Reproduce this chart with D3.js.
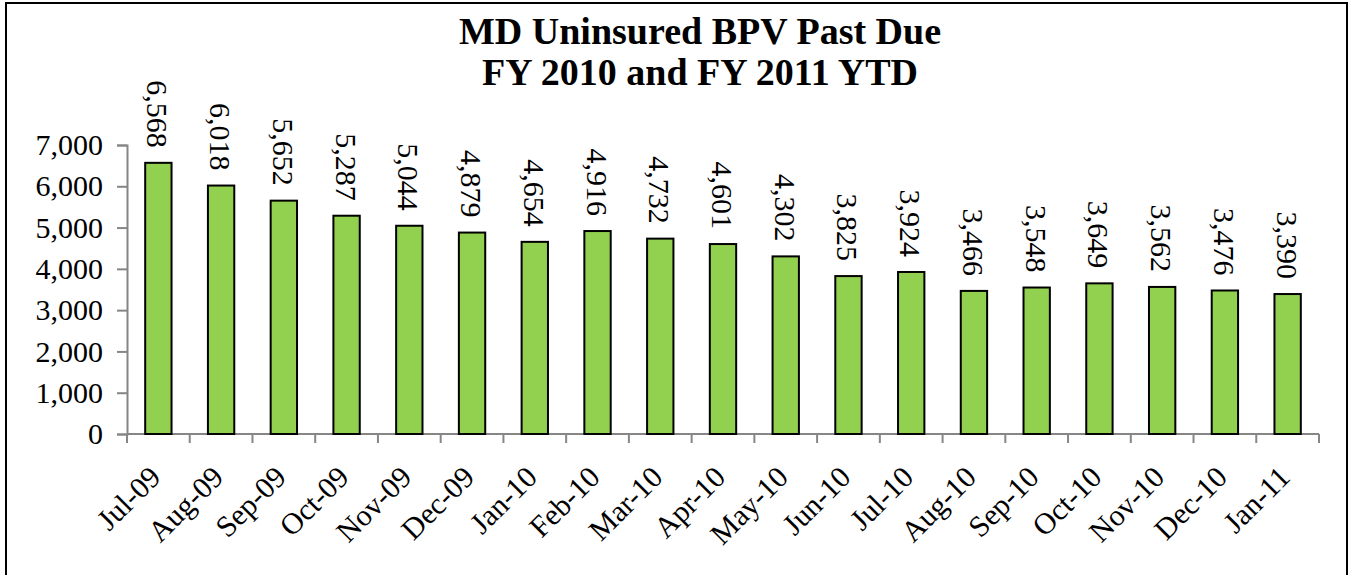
<!DOCTYPE html>
<html><head><meta charset="utf-8">
<script src="https://cdn.jsdelivr.net/npm/d3@7"></script>
<style>html,body{margin:0;padding:0;background:#fff;}svg{display:block;}</style>
</head><body>
<svg id="chart" width="1351" height="575"></svg>
<script>
const categories = ["Jul-09","Aug-09","Sep-09","Oct-09","Nov-09","Dec-09","Jan-10","Feb-10","Mar-10","Apr-10","May-10","Jun-10","Jul-10","Aug-10","Sep-10","Oct-10","Nov-10","Dec-10","Jan-11"];
const values = [6568,6018,5652,5287,5044,4879,4654,4916,4732,4601,4302,3825,3924,3466,3548,3649,3562,3476,3390];
const yTicks = [0,1000,2000,3000,4000,5000,6000,7000];
const titleLines = ["MD Uninsured BPV Past Due","FY 2010 and FY 2011 YTD"];

const svg = d3.select("#chart");
const font = "'Liberation Serif','Times New Roman',serif";
const W = 1351, H = 575;
const m = {left:127, right:1319, top:145, bottom:434};

svg.append("rect").attr("x",6).attr("y",3).attr("width",1341).attr("height",H+10)
  .attr("fill","#fff").attr("stroke","#000").attr("stroke-width",2);

svg.append("g").selectAll("text").data(titleLines).join("text")
  .attr("x",700).attr("y",(d,i)=>44+i*41)
  .attr("text-anchor","middle").attr("font-family",font).attr("font-weight","bold")
  .attr("font-size",38).attr("fill","#000").text(d=>d);

const x = d3.scaleBand().domain(categories).range([m.left,m.right]).paddingInner(0.58).paddingOuter(0.29);
const xb = d3.scaleBand().domain(categories).range([m.left,m.right]);
const y = d3.scaleLinear().domain([0,7000]).range([m.bottom,m.top]);

// y axis
const ya = svg.append("g").attr("transform",`translate(${m.left},0)`)
  .call(d3.axisLeft(y).tickValues(yTicks).tickFormat(d3.format(",")).tickSizeOuter(0).tickSize(10).tickPadding(14));
ya.select(".domain").attr("stroke","#868686").attr("stroke-width",2);
ya.selectAll(".tick line").attr("stroke","#868686").attr("stroke-width",2);
ya.selectAll("text").attr("font-family",font).attr("font-size",30).attr("fill","#000");

// x axis line and boundary ticks
const xg = svg.append("g");
xg.append("line").attr("x1",m.left).attr("x2",m.right).attr("y1",m.bottom).attr("y2",m.bottom)
  .attr("stroke","#868686").attr("stroke-width",2);
const bounds = categories.map(c=>xb(c)).concat([m.right]);
xg.selectAll("line.t").data(bounds).join("line").attr("class","t")
  .attr("x1",d=>d).attr("x2",d=>d).attr("y1",m.bottom).attr("y2",m.bottom+9)
  .attr("stroke","#868686").attr("stroke-width",2);

// bars
svg.append("g").selectAll("rect").data(values).join("rect")
  .attr("x",(d,i)=>x(categories[i])).attr("width",x.bandwidth())
  .attr("y",d=>y(d)).attr("height",d=>y(0)-y(d))
  .attr("fill","#92D050").attr("stroke","#000").attr("stroke-width",2);

// data labels
svg.append("g").selectAll("text").data(values).join("text")
  .attr("transform",(d,i)=>`translate(${x(categories[i])+x.bandwidth()/2-11},${y(d)-15}) rotate(90)`)
  .attr("text-anchor","end").attr("font-family",font).attr("font-size",30).attr("fill","#000")
  .text(d=>d3.format(",")(d));

// x labels
svg.append("g").selectAll("text").data(categories).join("text")
  .attr("transform",c=>`translate(${xb(c)+xb.bandwidth()/2+4},${m.bottom+45}) rotate(-45)`)
  .attr("text-anchor","end").attr("font-family",font).attr("font-size",30).attr("fill","#000")
  .text(c=>c);
</script>
</body></html>
